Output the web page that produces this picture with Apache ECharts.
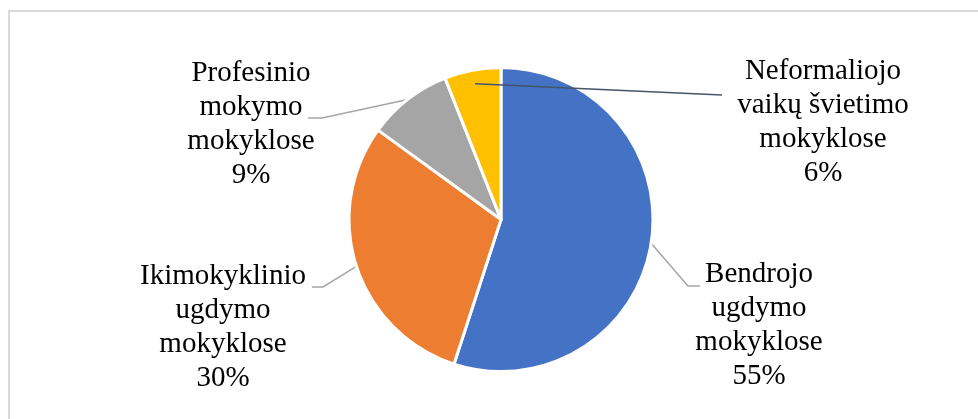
<!DOCTYPE html>
<html>
<head>
<meta charset="utf-8">
<script src="https://cdn.jsdelivr.net/npm/echarts@6/dist/echarts.min.js"></script>
<style>
html,body{margin:0;padding:0;background:#fff;}
#chart{width:978px;height:419px;}
</style>
</head>
<body>
<div id="chart"></div>
<script>
// ---- data ----
const categories = [
  'Bendrojo\nugdymo\nmokyklose',
  'Ikimokyklinio\nugdymo\nmokyklose',
  'Profesinio\nmokymo\nmokyklose',
  'Neformaliojo\nvaikų švietimo\nmokyklose'
];
const values = [55, 30, 9, 6];
const sliceColors = ['#4472C4', '#ED7D31', '#A5A5A5', '#FFC000'];
const leaderColors = ['#A6A6A6', '#A6A6A6', '#A6A6A6', '#44546A'];
// leader lines that run over the pie (drawn in an overlay layer)
const leaderOnTop = [false, false, false, true];

// ---- layout ----
const pieCenter = [501, 219.5];
const pieRadius = 152;
// label block centre, leader elbow & end, leader start as fraction of radius
const labelLayouts = [
  { x: 759, y: 325, elbow: [688, 286], end: [700, 286], startR: 1 },
  { x: 223, y: 327, elbow: [323, 287], end: [312, 287], startR: 1 },
  { x: 251, y: 124, elbow: [322, 118], end: [308, 118], startR: 1 },
  { x: 823, y: 122, elbow: null, end: [722, 95], startR: 0.91 }
];

const total = values.reduce((a, b) => a + b, 0);
const midAngles = [];
{
  let acc = 0;
  values.forEach(v => { midAngles.push((acc + v / 2) / total * 2 * Math.PI); acc += v; });
}

function layoutLabel(params) {
  const i = params.dataIndex;
  const L = labelLayouts[i];
  const a = midAngles[i];
  const r = pieRadius * L.startR;
  const start = [pieCenter[0] + r * Math.sin(a), pieCenter[1] - r * Math.cos(a)];
  const line = L.elbow ? [start, L.elbow, L.end] : [start, L.end];
  return { x: L.x, y: L.y, align: 'center', verticalAlign: 'middle', labelLinePoints: line };
}

const labelFont = {
  fontFamily: '"Liberation Serif", "Times New Roman", serif',
  fontSize: 29,
  lineHeight: 34,
  align: 'center',
  formatter: p => p.name + '\n' + Math.round(p.percent) + '%'
};

const baseData = categories.map((name, i) => ({
  name: name,
  value: values[i],
  itemStyle: { color: sliceColors[i] },
  labelLine: { show: !leaderOnTop[i], lineStyle: { color: leaderColors[i] } }
}));

const overlayData = categories.map((name, i) => ({
  name: name,
  value: values[i],
  labelLine: { show: leaderOnTop[i], lineStyle: { color: leaderColors[i] } }
}));

const chart = echarts.init(document.getElementById('chart'), null, { renderer: 'canvas' });

chart.setOption({
  backgroundColor: '#ffffff',
  animation: false,
  graphic: [{
    type: 'rect',
    shape: { x: 9, y: 11, width: 1000, height: 500 },
    style: { fill: 'none', stroke: '#D9D9D9', lineWidth: 2 },
    silent: true,
    z: -1
  }],
  series: [{
    type: 'pie',
    z: 2,
    center: pieCenter,
    radius: [0, pieRadius],
    startAngle: 90,
    clockwise: true,
    avoidLabelOverlap: false,
    itemStyle: { borderColor: '#ffffff', borderWidth: 3 },
    label: Object.assign({ show: true, position: 'outside', color: '#000000' }, labelFont),
    labelLine: { show: true, length: 20, length2: 10, lineStyle: { width: 1.5, color: '#A6A6A6' } },
    labelLayout: layoutLabel,
    data: baseData
  }, {
    type: 'pie',
    z: 5,
    silent: true,
    center: pieCenter,
    radius: [0, pieRadius],
    startAngle: 90,
    clockwise: true,
    avoidLabelOverlap: false,
    itemStyle: { color: 'rgba(0,0,0,0)', borderWidth: 0 },
    label: Object.assign({ show: true, position: 'outside', color: 'rgba(0,0,0,0)' }, labelFont),
    labelLine: { show: true, length: 20, length2: 10, lineStyle: { width: 1.5 } },
    labelLayout: layoutLabel,
    emphasis: { disabled: true },
    data: overlayData
  }]
});
</script>
</body>
</html>
